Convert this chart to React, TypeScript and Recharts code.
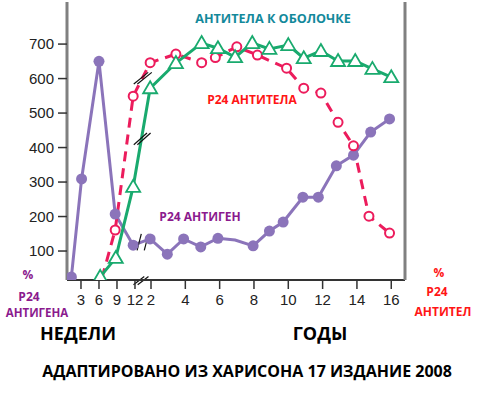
import React from 'react';
import { ComposedChart, Line, XAxis, YAxis, ReferenceLine } from 'recharts';

// axis ticks
const WEEK_TICKS = [3, 6, 9, 12];
const YEAR_TICKS = [2, 4, 6, 8, 10, 12, 14, 16];
const LEFT_TICKS = [100, 200, 300, 400, 500, 600, 700];
const RIGHT_LABELS = ['1:400', '1:800', '1:1600', '1:3200', '1:6400', '1:12,800', '1:25,600'];

// p24 antigen (%)
const antigenWeeks = [1.4, 3.1, 6, 8.7, 11.7];
const antigenWeekValues = [25, 309, 650, 207, 117];
const antigenYears = [1.95, 2.95, 3.9, 4.9, 5.9, 6.9, 7.95, 8.9, 9.7, 10.85, 11.75, 12.8, 13.8, 14.8, 15.9];
const antigenYearValues = [135, 91, 135, 112, 137, 132, 115, 158, 184, 256, 256, 347, 378, 445, 483];
const antigenHiddenYears = [6.9];

// envelope antibodies
const envWeeks = [6.2, 8.8, 11.7];
const envWeekValues = [25, 80, 286];
const envYears = [1.95, 3.45, 4.95, 5.9, 6.9, 7.9, 8.9, 10.0, 10.9, 11.9, 12.9, 13.9, 14.9, 16.0];
const envYearValues = [572, 645, 703, 688, 662, 703, 686, 697, 659, 680, 651, 651, 628, 604];

// p24 antibodies
const p24Weeks = [6.5, 8.7, 11.7];
const p24WeekValues = [22, 161, 549];
const p24HiddenWeeks = [6.5];
const p24Years = [1.95, 3.45, 4.95, 5.75, 7.0, 8.2, 9.9, 10.9, 11.9, 12.9, 13.8, 14.7, 15.9];
const p24YearValues = [646, 671, 646, 661, 692, 668, 630, 572, 558, 473, 405, 201, 152];

// the years part of the axis is squeezed and starts after a break
const YEAR_ORIGIN = 14.67;
const WEEKS_PER_YEAR = 2.86;
const yearToU = (y: number) => YEAR_ORIGIN + (y - 2) * WEEKS_PER_YEAR;

const build = (weeks: number[], wv: number[], years: number[], yv: number[], hideW: number[] = [], hideY: number[] = []) => [
  ...weeks.map((t, i) => ({ u: t, v: wv[i], hide: hideW.includes(t) })),
  ...years.map((t, i) => ({ u: yearToU(t), v: yv[i], hide: hideY.includes(t) })),
];

const antigen = build(antigenWeeks, antigenWeekValues, antigenYears, antigenYearValues, [], antigenHiddenYears);
const envelope = build(envWeeks, envWeekValues, envYears, envYearValues);
const p24ab = build(p24Weeks, p24WeekValues, p24Years, p24YearValues, p24HiddenWeeks, []);

const xTicks = [...WEEK_TICKS, ...YEAR_TICKS.map(yearToU)];
const xLabels = [...WEEK_TICKS, ...YEAR_TICKS].map(String);

// break marks "//" (centre in data units)
const BREAKS = [
  { u: 13.0, v: 14, du: 0.9, dv: 12, off: 0.35 },
  { u: 13.3, v: 126, du: 0.35, dv: 24, off: 0.6 },
  { u: 13.2, v: 425, du: 1.1, dv: 17, off: 0.3 },
  { u: 13.3, v: 601, du: 1.2, dv: 17, off: 0.3 },
];

const PURPLE = '#8b74ba';
const GREEN = '#19aa6e';
const RED = '#ec1c5c';

const tickStyle = { fontSize: 15, fill: '#222', fontFamily: 'Liberation Sans, Arial, sans-serif' };

const Triangle = (props: any) => {
  const { cx, cy, payload, index } = props;
  if (payload.hide || cx == null) return <g key={index} />;
  return (
    <polygon
      key={index}
      points={`${cx},${cy - 7} ${cx + 7},${cy + 5} ${cx - 7},${cy + 5}`}
      fill="#fff"
      stroke={GREEN}
      strokeWidth={1.8}
    />
  );
};

const makeCircle = (r: number, fill: string, stroke: string, sw: number) => (props: any) => {
  const { cx, cy, payload, index } = props;
  if (payload.hide || cx == null) return <g key={index} />;
  return <circle key={index} cx={cx} cy={cy} r={r} fill={fill} stroke={stroke} strokeWidth={sw} />;
};

const Txt = ({ x, y, color, size, children }: any) => (
  <div
    style={{
      position: 'absolute',
      left: x,
      top: y,
      transform: 'translate(-50%, -50%)',
      color,
      fontSize: size,
      fontWeight: 700,
      fontFamily: '"Open Sans", sans-serif',
      whiteSpace: 'nowrap',
      lineHeight: 1,
    }}
  >
    {children}
  </div>
);

export default function App() {
  return (
    <div style={{ position: 'absolute', left: 0, top: 0, width: 495, height: 397, background: '#fff' }}>
      <ComposedChart width={495} height={397} margin={{ top: 2, right: 20, bottom: 87, left: 17 }}>
        <XAxis
          type="number"
          dataKey="u"
          domain={[0.67, 57]}
          ticks={xTicks}
          interval={0}
          tickFormatter={(val: number) => xLabels[xTicks.indexOf(val)] ?? ''}
          height={30}
          tick={tickStyle}
          tickSize={9}
          tickMargin={5}
          axisLine={{ stroke: '#333', strokeWidth: 2 }}
          tickLine={{ stroke: '#333', strokeWidth: 1.5 }}
          allowDataOverflow
        />
        <XAxis
          xAxisId="top"
          orientation="top"
          type="number"
          domain={[0.67, 57]}
          height={0}
          tick={false}
          tickLine={false}
          axisLine={{ stroke: '#808080', strokeWidth: 3 }}
        />
        <YAxis
          yAxisId="left"
          type="number"
          domain={[16, 822]}
          ticks={LEFT_TICKS}
          interval={0}
          width={50}
          tick={tickStyle}
          tickSize={9}
          tickMargin={4}
          axisLine={{ stroke: '#808080', strokeWidth: 3 }}
          tickLine={{ stroke: '#333', strokeWidth: 1.5 }}
          allowDataOverflow
        />
        <YAxis
          yAxisId="right"
          orientation="right"
          type="number"
          domain={[16, 822]}
          ticks={LEFT_TICKS}
          interval={0}
          tickFormatter={(val: number) => RIGHT_LABELS[LEFT_TICKS.indexOf(val)] ?? ''}
          width={70}
          tick={tickStyle}
          tickSize={9}
          tickMargin={5}
          axisLine={{ stroke: '#808080', strokeWidth: 3 }}
          tickLine={{ stroke: '#333', strokeWidth: 1.5 }}
        />
        <Line
          yAxisId="left"
          data={antigen}
          dataKey="v"
          type="linear"
          stroke={PURPLE}
          strokeWidth={3}
          dot={makeCircle(5.5, PURPLE, PURPLE, 0)}
          activeDot={false}
          isAnimationActive={false}
        />
        <Line
          yAxisId="left"
          data={p24ab}
          dataKey="v"
          type="linear"
          stroke={RED}
          strokeWidth={3}
          strokeDasharray="10 7"
          dot={makeCircle(4.5, '#fff', RED, 2)}
          activeDot={false}
          isAnimationActive={false}
        />
        <Line
          yAxisId="left"
          data={envelope}
          dataKey="v"
          type="linear"
          stroke={GREEN}
          strokeWidth={3}
          dot={Triangle}
          activeDot={false}
          isAnimationActive={false}
        />
        {BREAKS.flatMap((b, i) =>
          [-1, 1].map((s) => (
            <ReferenceLine
              key={`br-${i}-${s}`}
              yAxisId="left"
              ifOverflow="visible"
              segment={[
                { x: b.u - b.du + s * b.off, y: b.v - b.dv },
                { x: b.u + b.du + s * b.off, y: b.v + b.dv },
              ]}
              stroke="#111"
              strokeWidth={1.2}
            />
          ))
        )}
      </ComposedChart>

      <Txt x={273} y={19} color="#13899b" size={12.6}>АНТИТЕЛА К ОБОЛОЧКЕ</Txt>
      <Txt x={252} y={100} color="#ff1515" size={12}>P24 АНТИТЕЛА</Txt>
      <Txt x={200} y={217} color="#8b1a8e" size={12}>P24 АНТИГЕН</Txt>

      <Txt x={28} y={275} color="#8b1a8e" size={12}>%</Txt>
      <Txt x={29} y={297} color="#8b1a8e" size={12}>P24</Txt>
      <Txt x={37} y={313} color="#8b1a8e" size={11.5}>АНТИГЕНА</Txt>

      <Txt x={439} y={273} color="#ff1515" size={12}>%</Txt>
      <Txt x={437} y={292} color="#ff1515" size={12}>P24</Txt>
      <Txt x={443} y={312} color="#ff1515" size={12}>АНТИТЕЛ</Txt>

      <Txt x={78} y={333} color="#000" size={18}>НЕДЕЛИ</Txt>
      <Txt x={320} y={333} color="#000" size={18}>ГОДЫ</Txt>
      <Txt x={247} y={371} color="#000" size={16}>АДАПТИРОВАНО ИЗ ХАРИСОНА 17 ИЗДАНИЕ 2008</Txt>
    </div>
  );
}
